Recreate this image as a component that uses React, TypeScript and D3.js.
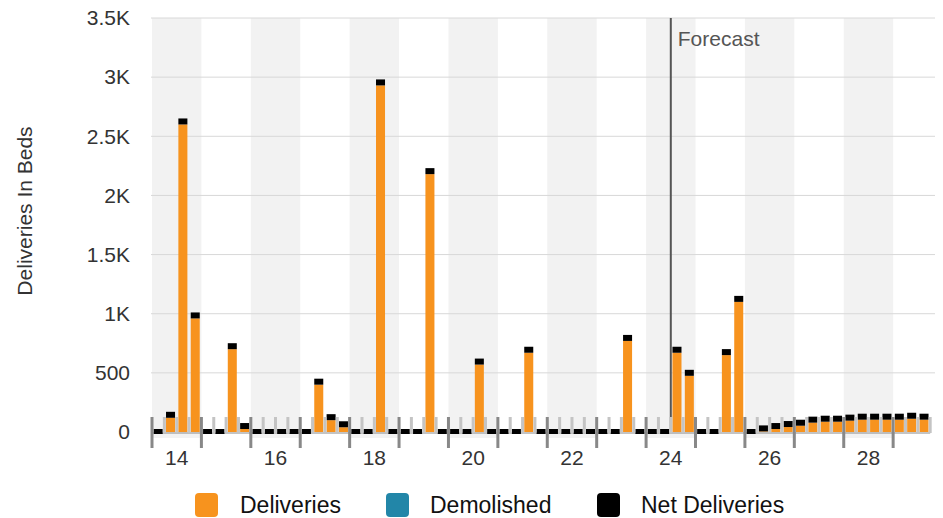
import * as d3 from 'd3';

// quarterly bed deliveries, 2014 Q1 .. 2029 Q3
const years = [14, 15, 16, 17, 18, 19, 20, 21, 22, 23, 24, 25, 26, 27, 28, 29];
const quarterNames = ['Q1', 'Q2', 'Q3', 'Q4'];

const deliveries = [
  0, 120, 2600, 960,
  0, 0, 700, 25,
  0, 0, 0, 0,
  0, 400, 100, 40,
  0, 0, 2930, 0,
  0, 0, 2180, 0,
  0, 0, 570, 0,
  0, 0, 670, 0,
  0, 0, 0, 0,
  0, 0, 770, 0,
  0, 0, 670, 475,
  0, 0, 650, 1100,
  0, 5, 25, 42,
  53, 79, 87, 87,
  96, 104, 104, 104,
  104, 112, 104,
];
const demolished = deliveries.map(() => 0);
const netDeliveries = deliveries.map((d, i) => d - demolished[i]);

const categories = years
  .flatMap((y) => quarterNames.map((q) => `20${y} ${q}`))
  .slice(0, deliveries.length);

const yTicks = [0, 500, 1000, 1500, 2000, 2500, 3000, 3500];
const xLabelYears = [14, 16, 18, 20, 22, 24, 26, 28];
const forecastStart = '2024 Q3';

const legendItems = [
  { label: 'Deliveries', color: '#F7931E', x: 195, tx: 240 },
  { label: 'Demolished', color: '#2286A8', x: 386, tx: 430 },
  { label: 'Net Deliveries', color: '#000000', x: 597, tx: 641 },
];

const font = '"Liberation Sans", Arial, Helvetica, sans-serif';

export default function App() {
  const W = 943;
  const H = 518;
  const left = 152;
  const right = 930.2;
  const top = 18;
  const base = 432;

  const n = categories.length;
  const x = d3.scaleBand<string>().domain(categories).range([left, right]).paddingInner(0.27).paddingOuter(0.135);
  const pos = d3.scaleLinear().domain([0, n]).range([left, right]);
  const y = d3.scaleLinear().domain([0, 3500]).range([base, top]);

  const fmt = (v: number) => (v >= 1000 ? `${v / 1000}K` : `${v}`);
  const yearStart = (yr: number) => pos((yr - 14) * 4);
  const forecastX = pos(categories.indexOf(forecastStart));

  return (
    <div style={{ position: 'absolute', left: 0, top: 0 }}>
      <svg width={W} height={H} style={{ display: 'block', fontFamily: font }}>
        {/* alternating year bands */}
        {years.map((yr) =>
          yr % 2 === 0 ? (
            <rect key={`b${yr}`} x={yearStart(yr)} y={top} width={Math.min(yearStart(yr + 1), 935) - yearStart(yr)} height={438 - top} fill="#f2f2f2" />
          ) : null
        )}
        {/* grid */}
        {yTicks.map((t) =>
          t === 0 ? null : <line key={`g${t}`} x1={left - 1} x2={935} y1={y(t)} y2={y(t)} stroke="#d8d8d8" strokeWidth={1} />
        )}
        {yTicks.map((t) => (
          <text key={`yt${t}`} x={130} y={y(t)} dy="0.35em" textAnchor="end" fontSize={21} fill="#333">
            {fmt(t)}
          </text>
        ))}
        <text transform={`translate(32,211) rotate(-90)`} textAnchor="middle" fontSize={21} fill="#333">
          Deliveries In Beds
        </text>

        {/* forecast marker */}
        <line x1={forecastX} x2={forecastX} y1={top} y2={base + 1} stroke="#555" strokeWidth={2} />
        <text x={forecastX + 7} y={39} dy="0.35em" fontSize={21} fill="#555">
          Forecast
        </text>

        {/* baseline */}
        <line x1={left} x2={right} y1={base + 1} y2={base + 1} stroke="#888" strokeWidth={1} />

        {/* bars */}
        {categories.map((c, i) => (
          <rect key={`d${c}`} x={x(c)} y={y(deliveries[i])} width={x.bandwidth()} height={base - y(deliveries[i])} fill="#F7931E" />
        ))}
        {categories.map((c, i) =>
          demolished[i] > 0 ? (
            <rect key={`m${c}`} x={x(c)} y={base} width={x.bandwidth()} height={y(0) - y(demolished[i])} fill="#2286A8" />
          ) : null
        )}
        {categories.map((c, i) => {
          const v = netDeliveries[i];
          const yy = v > 0 ? y(v) - 6 : base - 3;
          return <rect key={`n${c}`} x={x(c)} y={yy} width={x.bandwidth()} height={v > 0 ? 6 : 5} fill="#000" />;
        })}

        {/* quarter ticks */}
        {d3.range(1, n + 1).map((i) =>
          i % 4 === 0 ? null : (
            <line key={`qt${i}`} x1={pos(i)} x2={pos(i)} y1={417} y2={base + 1} stroke="#c4c4c4" strokeWidth={3} />
          )
        )}
        {/* year ticks */}
        {years.map((yr) => (
          <line key={`yt${yr}`} x1={yearStart(yr)} x2={yearStart(yr)} y1={417} y2={448} stroke="#888" strokeWidth={3} />
        ))}
        {xLabelYears.map((yr) => (
          <text key={`xl${yr}`} x={(yearStart(yr) + yearStart(yr + 1)) / 2} y={458} dy="0.35em" textAnchor="middle" fontSize={21} fill="#333">
            {yr}
          </text>
        ))}

        {/* legend */}
        {legendItems.map((l) => (
          <g key={l.label}>
            <rect x={l.x} y={493} width={23} height={24} rx={4} fill={l.color} />
            <text x={l.tx} y={505} dy="0.35em" fontSize={23} fill="#111">
              {l.label}
            </text>
          </g>
        ))}
      </svg>
    </div>
  );
}
